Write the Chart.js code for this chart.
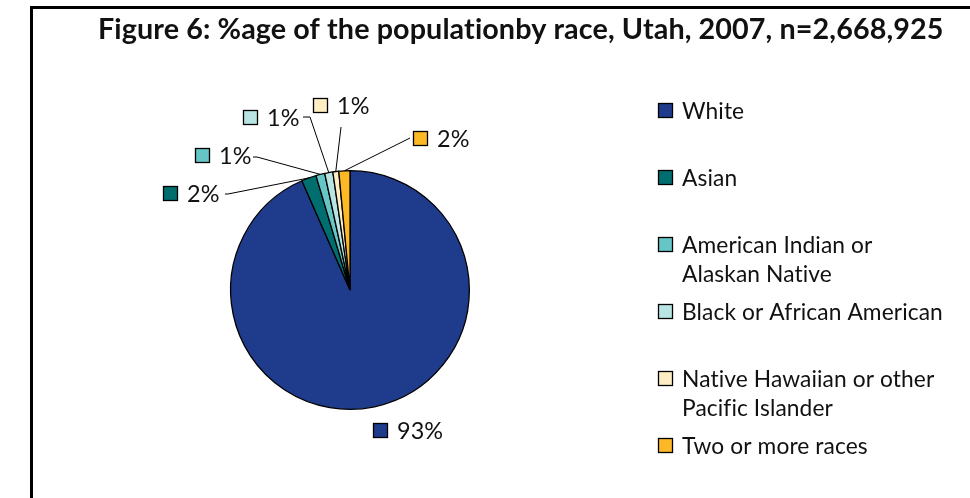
<!DOCTYPE html>
<html><head><meta charset="utf-8">
<script src="https://cdn.jsdelivr.net/npm/chart.js@4/dist/chart.umd.min.js"></script>
<style>html,body{margin:0;padding:0;background:#fff;}#wrap{width:970px;height:498px;position:relative;overflow:hidden}</style>
</head><body><div id="wrap"><canvas id="c" width="970" height="498"></canvas></div>
<script>
const titleText = 'Figure 6: %age of the populationby race, Utah, 2007, n=2,668,925';
const categories = ['White', 'Asian', 'American Indian or Alaskan Native', 'Black or African American', 'Native Hawaiian or other Pacific Islander', 'Two or more races'];
const legendLines = [['White'], ['Asian'], ['American Indian or', 'Alaskan Native'], ['Black or African American'], ['Native Hawaiian or other', 'Pacific Islander'], ['Two or more races']];
const percentages = [93.4, 2.0, 1.2, 1.1, 0.8, 1.5];
const sliceColors = ['#1F3B8C', '#006E6E', '#66C6C6', '#B8E4E4', '#FFEEC4', '#FDB826'];

// label layout (offsets from pie centre): square top-left, leader elbow, leader end
const labelLayout = [
  { sq: [23, 133], line: null },
  { sq: [-187, -104], line: [[-122, -96], [-125, -96]] },
  { sq: [-155, -142], line: [[-93, -133], [-97, -133]] },
  { sq: [-107, -180], line: [[-40, -173], [-47, -173]] },
  { sq: [-37, -192], line: [[-9, -163]] },
  { sq: [63, -159], line: [[60, -152]] }
];
const TEXT = '#111111';
const FONT = 'Lato, "Open Sans", sans-serif';

function fitSize(ctx, text, weight, target) {
  ctx.font = weight + ' 100px ' + FONT;
  const w100 = ctx.measureText(text).width;
  return 100 * target / w100;
}

const overlay = {
  id: 'overlay',
  afterDraw(chart) {
    const ctx = chart.ctx;
    ctx.save();
    if ('letterSpacing' in ctx) ctx.letterSpacing = '0.1px';
    // frame
    ctx.strokeStyle = '#000';
    ctx.lineWidth = 3;
    ctx.beginPath();
    ctx.moveTo(31.5, 520); ctx.lineTo(31.5, 7.5); ctx.lineTo(990, 7.5);
    ctx.stroke();
    // title
    const ts = fitSize(ctx, titleText, 'bold', 841);
    ctx.font = 'bold ' + ts + 'px ' + FONT;
    ctx.fillStyle = TEXT;
    ctx.textBaseline = 'alphabetic';
    ctx.textAlign = 'left';
    ctx.fillText(titleText, 98, 39);

    // data labels
    const meta = chart.getDatasetMeta(0);
    const ls = fitSize(ctx, '93%', 'normal', 46);
    meta.data.forEach((arc, i) => {
      const cx = arc.x, cy = arc.y;
      const mid = (arc.startAngle + arc.endAngle) / 2;
      const r = arc.outerRadius;
      const L = labelLayout[i];
      if (L.line) {
        ctx.strokeStyle = '#000';
        ctx.lineWidth = 1;
        ctx.beginPath();
        ctx.moveTo(cx + r * Math.cos(mid), cy + r * Math.sin(mid));
        L.line.forEach(p => ctx.lineTo(cx + p[0], cy + p[1]));
        ctx.stroke();
      }
      const sx = cx + L.sq[0], sy = cy + L.sq[1];
      ctx.fillStyle = sliceColors[i];
      ctx.fillRect(sx + 0.5, sy + 0.5, 14, 14);
      ctx.strokeStyle = '#000';
      ctx.lineWidth = 1.3;
      ctx.strokeRect(sx + 0.5, sy + 0.5, 14, 14);
      ctx.fillStyle = TEXT;
      ctx.font = ls + 'px ' + FONT;
      ctx.textBaseline = 'middle';
      ctx.fillText(Math.round(chart.data.datasets[0].data[i]) + '%', sx + 24, sy + 8);
    });

    // legend
    const gs = fitSize(ctx, 'Black or African American', 'normal', 259);
    ctx.font = gs + 'px ' + FONT;
    ctx.textBaseline = 'middle';
    legendLines.forEach((lines, i) => {
      const y = 111 + i * 67;
      ctx.fillStyle = sliceColors[i];
      ctx.fillRect(658.5, y - 7.5, 14, 14);
      ctx.strokeStyle = '#000';
      ctx.lineWidth = 1.3;
      ctx.strokeRect(658.5, y - 7.5, 14, 14);
      ctx.fillStyle = TEXT;
      lines.forEach((t, j) => ctx.fillText(t, 682, y + 1 + j * 29));
    });
    ctx.restore();
  }
};

new Chart(document.getElementById('c'), {
  type: 'pie',
  data: {
    labels: categories,
    datasets: [{
      data: percentages,
      backgroundColor: sliceColors,
      borderColor: '#000',
      borderWidth: 1.3
    }]
  },
  options: {
    responsive: false,
    animation: false,
    devicePixelRatio: 1,
    layout: { padding: { left: 230, right: 500, top: 170, bottom: 88 } },
    plugins: { legend: { display: false }, tooltip: { enabled: false }, title: { display: false } }
  },
  plugins: [overlay]
});
</script>
</body></html>
